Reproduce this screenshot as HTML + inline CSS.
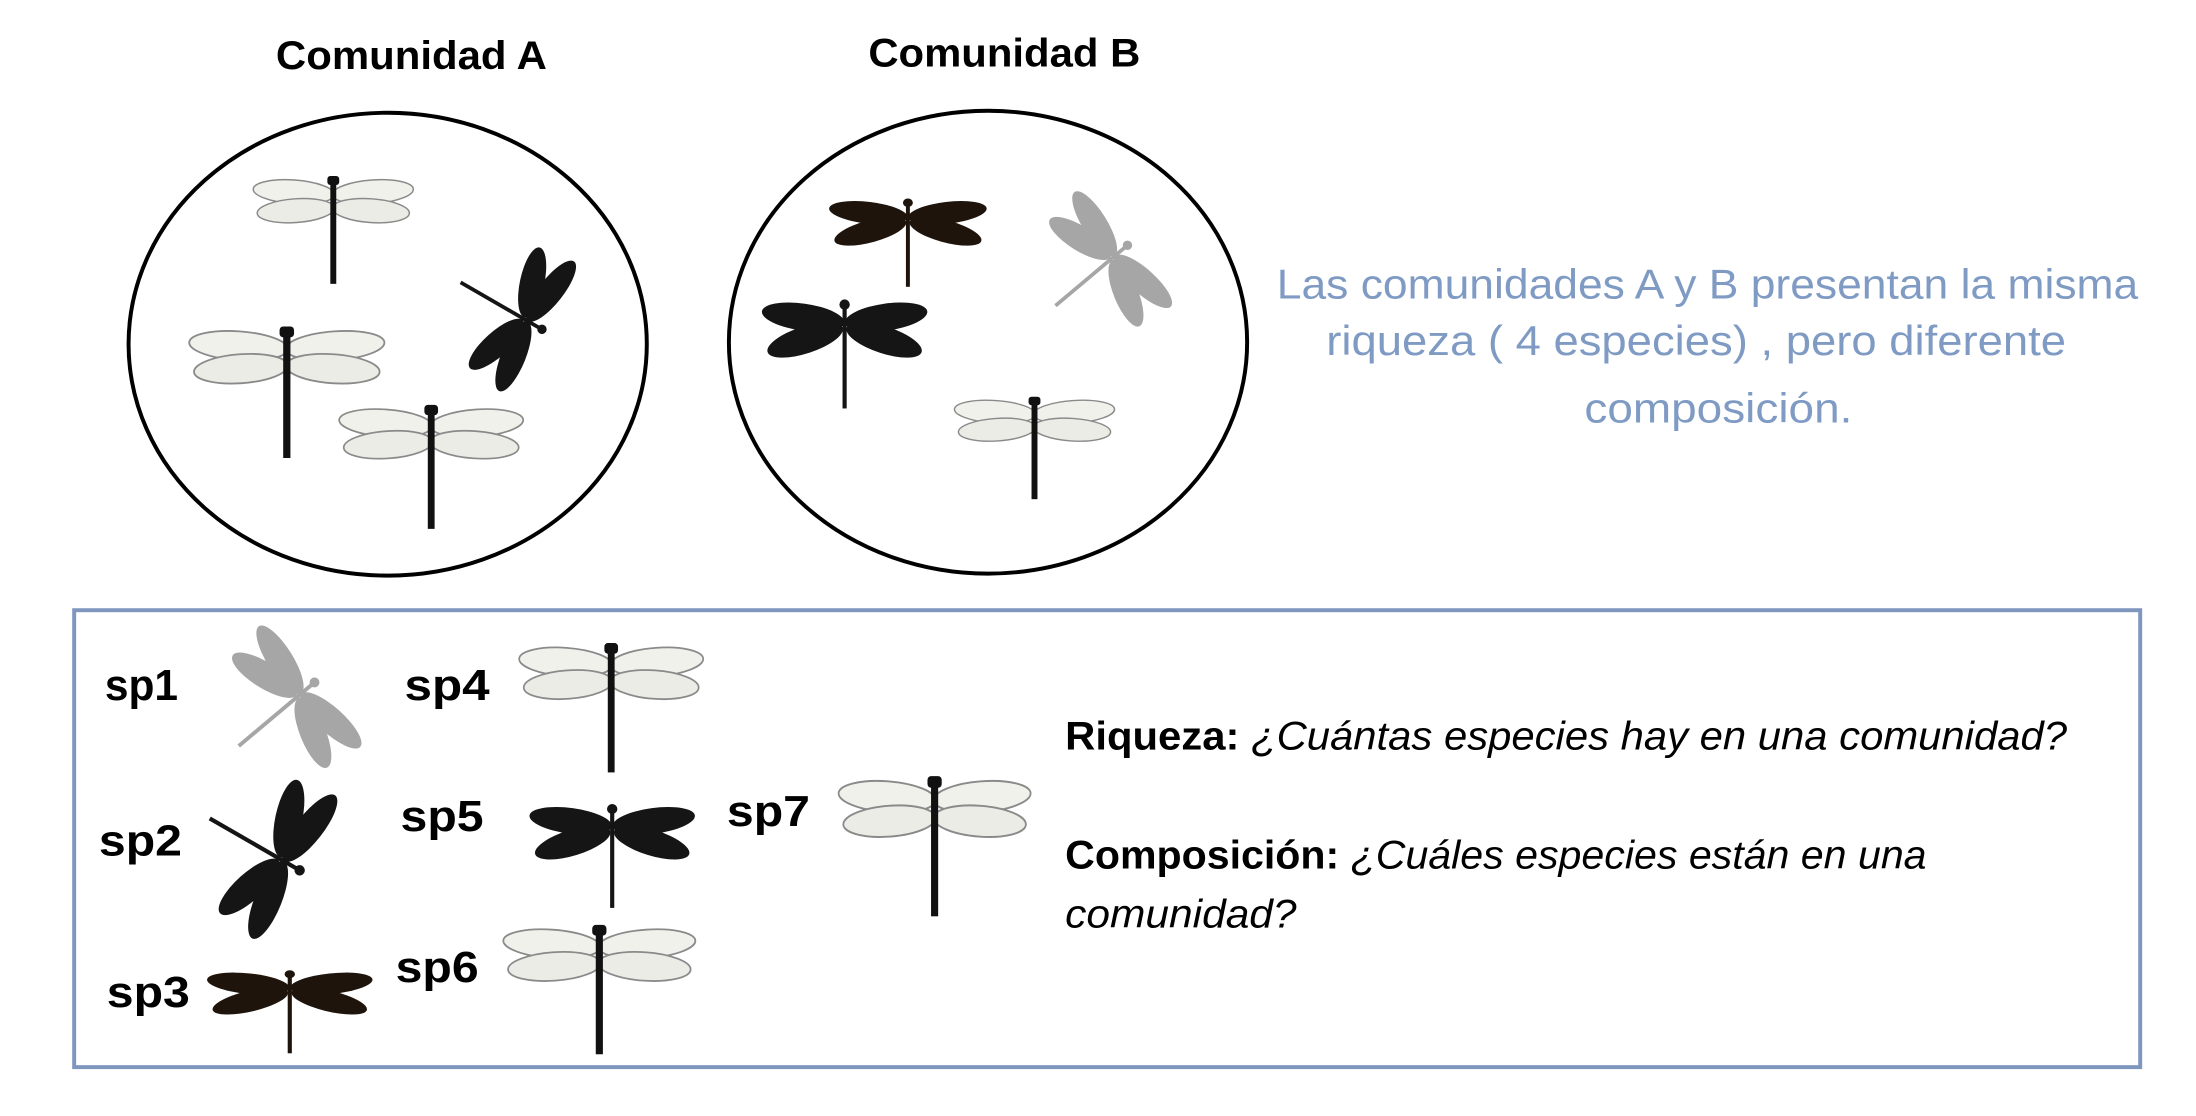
<!DOCTYPE html>
<html><head><meta charset="utf-8"><style>
html,body{margin:0;padding:0;background:#fff;width:2196px;height:1116px;overflow:hidden}
svg{display:block}
.t{font-family:"Liberation Sans",sans-serif}
</style></head><body>
<svg width="2196" height="1116" viewBox="0 0 2196 1116" xmlns="http://www.w3.org/2000/svg">
<defs>
<g id="lace">
<ellipse cx="-40" cy="12" rx="41" ry="12" fill="#f1f1ec" stroke="#8a8a8a" stroke-width="1.5" transform="rotate(4 -40 12)"/>
<ellipse cx="40" cy="12" rx="41" ry="12" fill="#f1f1ec" stroke="#8a8a8a" stroke-width="1.5" transform="rotate(-4 40 12)"/>
<ellipse cx="-38" cy="31" rx="39" ry="12" fill="#ececE6" stroke="#8a8a8a" stroke-width="1.5" transform="rotate(-4 -38 31)"/>
<ellipse cx="38" cy="31" rx="39" ry="12" fill="#ececE6" stroke="#8a8a8a" stroke-width="1.5" transform="rotate(4 38 31)"/>
<rect x="-6" y="-4" width="12" height="9" rx="3" fill="#111"/>
<rect x="-3" y="0" width="6" height="105" fill="#111"/>
</g>
<g id="dark">
<ellipse cx="-40" cy="12" rx="40" ry="13" transform="rotate(8 -40 12)"/>
<ellipse cx="40" cy="12" rx="40" ry="13" transform="rotate(-8 40 12)"/>
<ellipse cx="-38" cy="34" rx="38" ry="13" transform="rotate(-18 -38 34)"/>
<ellipse cx="38" cy="34" rx="38" ry="13" transform="rotate(18 38 34)"/>
<circle cx="0" cy="0" r="5"/>
<rect x="-2" y="0" width="4" height="100"/>
</g>
</defs>
<g transform="scale(0.989)">
<text class="t" x="279" y="70" font-size="40" font-weight="bold" textLength="274" lengthAdjust="spacingAndGlyphs">Comunidad A</text>
<text class="t" x="878" y="67" font-size="40" font-weight="bold" textLength="275" lengthAdjust="spacingAndGlyphs">Comunidad B</text>
<ellipse cx="392" cy="348" rx="262" ry="234" fill="none" stroke="#000" stroke-width="4"/>
<ellipse cx="999" cy="346" rx="262" ry="234" fill="none" stroke="#000" stroke-width="4"/>

<use href="#lace" transform="translate(337,182)"/>
<use href="#dark" fill="#151515" transform="translate(548,333) rotate(120) scale(0.95)"/>
<use href="#lace" transform="translate(290,335) scale(1.22)"/>
<use href="#lace" transform="translate(436,414) scale(1.15)"/>
<use href="#dark" fill="#1e140c" transform="translate(918,205) scale(1,0.85)"/>
<use href="#dark" fill="#a6a6a6" transform="translate(1140,248) rotate(50) scale(0.95)"/>
<use href="#dark" fill="#151515" transform="translate(854,308) scale(1.05)"/>
<use href="#lace" transform="translate(1046,405) scale(1,0.95)"/>

<text class="t" x="1291" y="302" font-size="42" fill="#7f9bc4" textLength="871" lengthAdjust="spacingAndGlyphs">Las comunidades A y B presentan la misma</text>
<text class="t" x="1341" y="359" font-size="42" fill="#7f9bc4" textLength="748" lengthAdjust="spacingAndGlyphs">riqueza ( 4 especies) , pero diferente</text>
<text class="t" x="1602" y="427" font-size="42" fill="#7f9bc4" textLength="271" lengthAdjust="spacingAndGlyphs">composición.</text>

<rect x="75" y="617" width="2089" height="462" fill="none" stroke="#7f96bf" stroke-width="4"/>

<g class="t" font-size="44" font-weight="bold">
<text x="106" y="708" textLength="74" lengthAdjust="spacingAndGlyphs">sp1</text>
<text x="409" y="708" textLength="86" lengthAdjust="spacingAndGlyphs">sp4</text>
<text x="100" y="865" textLength="84" lengthAdjust="spacingAndGlyphs">sp2</text>
<text x="405" y="840" textLength="84" lengthAdjust="spacingAndGlyphs">sp5</text>
<text x="735" y="835" textLength="84" lengthAdjust="spacingAndGlyphs">sp7</text>
<text x="108" y="1018" textLength="84" lengthAdjust="spacingAndGlyphs">sp3</text>
<text x="400" y="993" textLength="84" lengthAdjust="spacingAndGlyphs">sp6</text>
</g>
<use href="#dark" fill="#a6a6a6" transform="translate(318,690) rotate(50) scale(1)"/>
<use href="#lace" transform="translate(618,655) scale(1.15,1.2)"/>
<use href="#dark" fill="#151515" transform="translate(303,880) rotate(120) scale(1.05)"/>
<use href="#dark" fill="#151515" transform="translate(619,818) scale(1.05,1)"/>
<use href="#lace" transform="translate(945,790) scale(1.2,1.3)"/>
<use href="#dark" fill="#1e140c" transform="translate(293,985) scale(1.05,0.8)"/>
<use href="#lace" transform="translate(606,940) scale(1.2)"/>

<text class="t" x="1077" y="758" font-size="40" textLength="1013" lengthAdjust="spacingAndGlyphs"><tspan font-weight="bold">Riqueza:</tspan> <tspan font-style="italic">¿Cuántas especies hay en una comunidad?</tspan></text>
<text class="t" x="1077" y="878" font-size="40" textLength="871" lengthAdjust="spacingAndGlyphs"><tspan font-weight="bold">Composición:</tspan> <tspan font-style="italic">¿Cuáles especies están en una</tspan></text>
<text class="t" x="1077" y="938" font-size="40" font-style="italic" textLength="234" lengthAdjust="spacingAndGlyphs">comunidad?</text>
</g>
</svg>
</body></html>
